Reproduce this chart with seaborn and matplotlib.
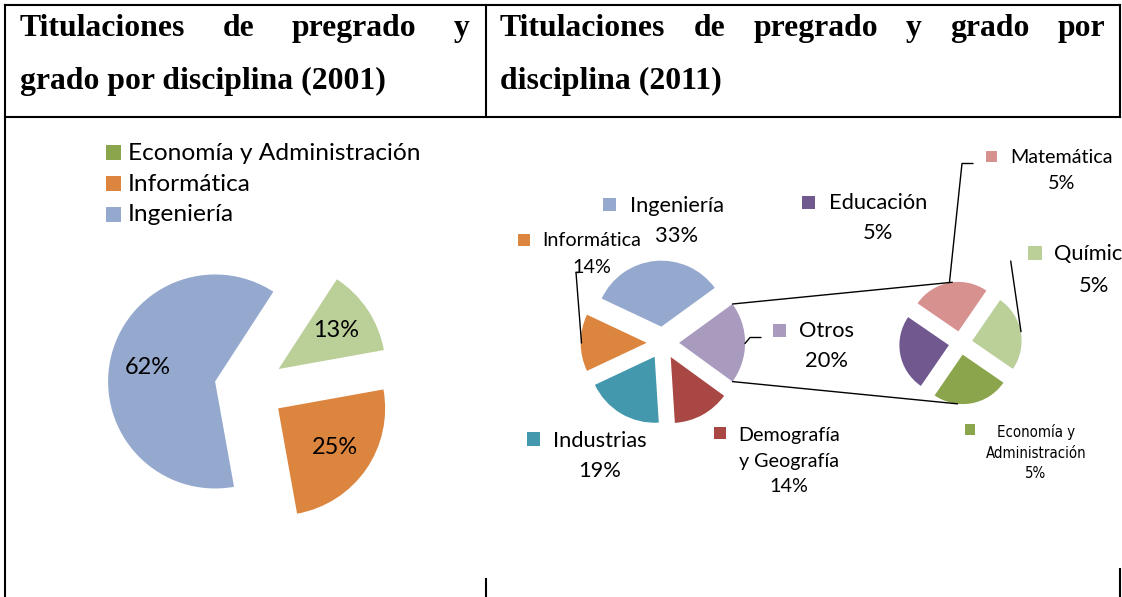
import matplotlib
matplotlib.use("Agg")
import matplotlib.pyplot as plt
from matplotlib.patches import Rectangle
from matplotlib import font_manager
from matplotlib.font_manager import FontProperties
import seaborn as sns
import numpy as np

# ---------------- data ----------------
cats_2001 = ["Economía y Administración", "Informática", "Ingeniería"]
vals_2001 = [13, 25, 62]

cats_2011 = ["Ingeniería", "Otros", "Demografía y Geografía", "Industrias", "Informática"]
vals_2011 = [33, 20, 14, 19, 14]

cats_otros = ["Matemática", "Química", "Economía y Administración", "Educación"]
vals_otros = [5, 5, 5, 5]

title_2001 = ["Titulaciones de pregrado y", "grado por disciplina (2001)"]
title_2011 = ["Titulaciones de pregrado y grado por", "disciplina (2011)"]

# ---------------- styles ----------------
colors_2001 = ["#BBCF99", "#DC853F", "#95A9CF"]
legend_cols_2001 = ["#8BA54D", "#DC853F", "#95A9CF"]
colors_2011 = ["#95A9CF", "#A99BBD", "#A94745", "#4398AE", "#DC853F"]
colors_otros = ["#D79290", "#BBCF99", "#8BA54D", "#71588F"]

sns.set_theme(style="white")
plt.rcParams["font.family"] = ["Lato", "DejaVu Sans"]

W, H = 1122, 597
fig = plt.figure(figsize=(W / 100, H / 100), dpi=100)
ax = fig.add_axes([0, 0, 1, 1])
renderer = fig.canvas.get_renderer()


def P(x, y):
    return (x, H - y)


def fit_size(s, width, **kw):
    t = ax.text(0, 0, s, fontsize=20, **kw)
    w = t.get_window_extent(renderer).width
    t.remove()
    return 20 * width / w


def narrow_props():
    ttf = font_manager.fontManager.ttflist
    for f in ttf:
        if f.name == "Liberation Sans Narrow" and f.weight in (400, "normal", "regular") and f.style == "normal":
            return FontProperties(fname=f.fname)
    for f in ttf:
        if ("Narrow" in f.name or "Condensed" in f.name or str(f.stretch) in ("condensed", "semi-condensed")) \
                and f.style == "normal" and f.weight in (400, "normal", "regular", "book"):
            return FontProperties(fname=f.fname)
    return FontProperties(family="Liberation Sans")


narrow_fp = narrow_props()
serif_family = ["Liberation Serif", "DejaVu Serif"]

# ---------------- table frame ----------------
lw = 1.5
frame_segments = [
    ((5, 5), (1120, 5)),
    ((5, 117), (1120, 117)),
    ((5, 5), (5, 597)),
    ((486, 5), (486, 117)),
    ((1120, 5), (1120, 117)),
    ((486, 579), (486, 597)),
    ((1120, 569), (1120, 597)),
]
for a, b in frame_segments:
    (x0, y0), (x1, y1) = P(*a), P(*b)
    ax.plot([x0, x1], [y0, y1], color="black", lw=lw, solid_capstyle="projecting", zorder=5)

# ---------------- header text ----------------
hsize = fit_size("Titulaciones", 165, family=serif_family, weight="bold")


def justified(line, x0, x1, yb):
    words = line.split()
    ts = [ax.text(0, 0, w, family=serif_family, weight="bold", fontsize=hsize,
                  ha="left", va="baseline", color="black") for w in words]
    widths = [t.get_window_extent(renderer).width for t in ts]
    gap = (x1 - x0 - sum(widths)) / (len(words) - 1)
    x = x0
    for t, w in zip(ts, widths):
        t.set_position(P(x, yb))
        x += w + gap


def plain(line, x0, yb):
    ax.text(*P(x0, yb), line, family=serif_family, weight="bold", fontsize=hsize,
            ha="left", va="baseline", color="black")


justified(title_2001[0], 20, 470, 36)
plain(title_2001[1], 20, 89)
justified(title_2011[0], 500, 1105, 36)
plain(title_2011[1], 500, 89)

# ---------------- left pie (2001) ----------------
pct_size = fit_size("62%", 46)
r1 = 107
ax.pie(vals_2001, colors=colors_2001, startangle=57, counterclock=False,
       center=P(249.4, 388.4), radius=r1, explode=[35] * len(vals_2001),
       autopct="%.0f%%", pctdistance=0.645,
       textprops=dict(fontsize=pct_size, color="black"),
       wedgeprops=dict(linewidth=0), frame=False)

leg_size = fit_size("Economía y Administración", 292)
leg_tops = [145, 176, 206.7]
leg_base = [160, 190.7, 221]
for c, col, top, yb in zip(cats_2001, legend_cols_2001, leg_tops, leg_base):
    ax.add_patch(Rectangle(P(106, top + 15), 15, 15, facecolor=col, edgecolor="none"))
    ax.text(*P(128, yb), c, fontsize=leg_size, ha="left", va="baseline", color="black")

# ---------------- right pie of pie (2011) ----------------
big = fit_size("Ingeniería", 95)
small = fit_size("Informática", 99)
narrow = fit_size("Administración", 100, fontproperties=narrow_fp)

tot = sum(vals_2011)
fr = np.array(vals_2011) / tot
start_main = 360 * (fr[0] + fr[1] / 2)  # "Otros" centred on the right
C2, r2, e2 = P(662.9, 342.8), 66, 16.2
ax.pie(vals_2011, colors=colors_2011, startangle=start_main, counterclock=False,
       center=C2, radius=r2, explode=[e2] * len(vals_2011),
       wedgeprops=dict(linewidth=0), frame=False)

C3, r3, e3 = P(960.5, 343), 49.5, 11.8
start_sec = 145.5
ax.pie(vals_otros, colors=colors_otros, startangle=start_sec, counterclock=False,
       center=C3, radius=r3, explode=[e3] * len(vals_otros),
       wedgeprops=dict(linewidth=0), frame=False)

# connector lines between "Otros" and the secondary pie
edges = start_main - 360 * np.concatenate([[0], np.cumsum(fr)])
a0, a1 = np.radians(edges[1]), np.radians(edges[2])
am = (a0 + a1) / 2
ox, oy = C2[0] + e2 * np.cos(am), C2[1] + e2 * np.sin(am)
fr3 = np.array(vals_otros) / sum(vals_otros)
edges3 = start_sec - 360 * np.concatenate([[0], np.cumsum(fr3)])
m_top = np.radians((edges3[0] + edges3[1]) / 2)
m_bot = np.radians((edges3[2] + edges3[3]) / 2)
tx = C3[0] + e3 * np.cos(m_top) + r3 * np.cos(np.radians(97))
ty = C3[1] + e3 * np.sin(m_top) + r3 * np.sin(np.radians(97))
bx = C3[0] + e3 * np.cos(m_bot) + r3 * np.cos(np.radians(-96))
by = C3[1] + e3 * np.sin(m_bot) + r3 * np.sin(np.radians(-96))
ax.plot([ox + r2 * np.cos(a0), tx], [oy + r2 * np.sin(a0), ty], color="black", lw=1.0)
ax.plot([ox + r2 * np.cos(a1), bx], [oy + r2 * np.sin(a1), by], color="black", lw=1.0)

# data labels (legend key + name + percentage)
wrap = {"Demografía y Geografía": ["Demografía", "y Geografía"],
        "Economía y Administración": ["Economía y", "Administración"]}

layout_main = [
    dict(key=(603, 198, 13), cx=677, base=[212.5, 242.5], size=big),
    dict(key=(773, 323.5, 13.5), cx=827, base=[336.7, 366.7], size=big),
    dict(key=(714, 427, 12), cx=789, base=[440.7, 466.7, 491.7], size=small),
    dict(key=(527, 432, 13.5), cx=600, base=[446.7, 476.7], size=big),
    dict(key=(518.5, 233.5, 12), cx=591.5, base=[246, 273.3], size=small),
]
layout_sec = [
    dict(key=(985.7, 150.7, 11), cx=1061.7, base=[163.3, 189.3], size=small),
    dict(key=(1028.3, 246, 14), cx=1094, base=[260, 291.7], size=big),
    dict(key=(965, 424, 10.5), cx=1036, base=[437.3, 458.3, 478.3], size=narrow, fp=narrow_fp),
    dict(key=(802, 195.5, 13), cx=878, base=[209.3, 239.3], size=big),
]


def draw_labels(cats, vals, cols, layout):
    for c, v, col, lay in zip(cats, vals, cols, layout):
        kx, ky, ks = lay["key"]
        ax.add_patch(Rectangle(P(kx, ky + ks), ks, ks, facecolor=col, edgecolor="none"))
        lines = wrap.get(c, [c]) + [f"{v}%"]
        for line, yb in zip(lines, lay["base"]):
            kw = dict(fontproperties=lay["fp"]) if "fp" in lay else dict(family=["Lato", "DejaVu Sans"])
            ax.text(*P(lay["cx"], yb), line, fontsize=lay["size"],
                    ha="center", va="baseline", color="black", **kw)


draw_labels(cats_2011, vals_2011, colors_2011, layout_main)
draw_labels(cats_otros, vals_otros, colors_otros, layout_sec)

# leader lines
leaders = [
    [(579, 272.5), (576, 272.5), (581.5, 343)],
    [(745, 343.5), (750, 337.5), (761, 337.5)],
    [(973, 163.5), (962, 163.5), (949.5, 282)],
    [(1010.7, 261), (1021, 331.7)],
]
for pts in leaders:
    xy = np.array([P(*p) for p in pts])
    ax.plot(xy[:, 0], xy[:, 1], color="black", lw=1.0)

ax.set_xlim(0, W)
ax.set_ylim(0, H)
ax.set_aspect("equal")
ax.axis("off")
fig.savefig("out.png", dpi=100, facecolor="white")
